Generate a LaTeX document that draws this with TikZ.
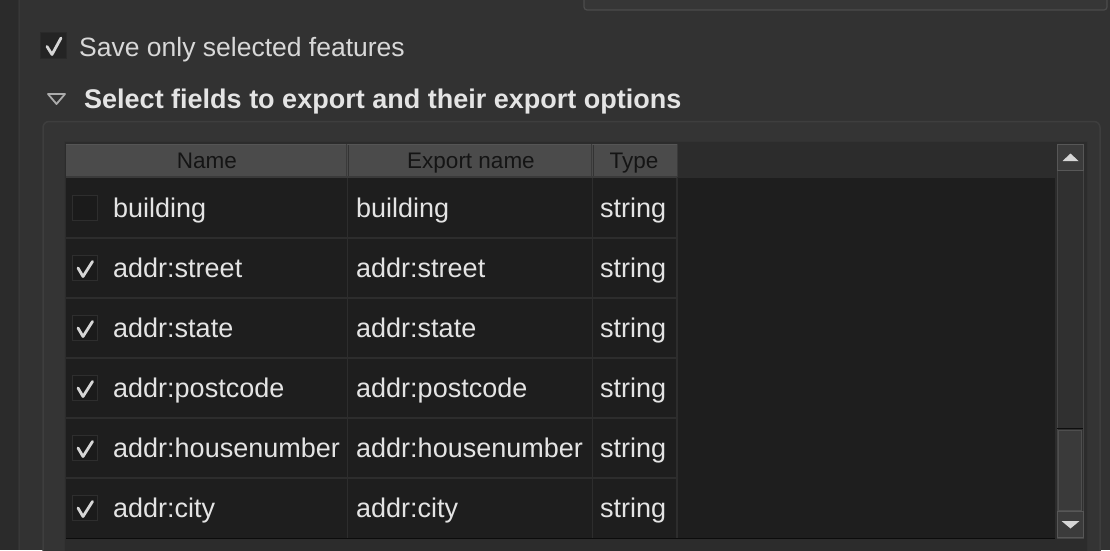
\documentclass[tikz,border=0pt]{standalone}
\usepackage{fontspec}
\setmainfont{Liberation Sans}
\definecolor{bgmain}{HTML}{323232}
\definecolor{bgstrip}{HTML}{2B2B2B}
\definecolor{stripline}{HTML}{383838}
\definecolor{grpfill}{HTML}{343434}
\definecolor{grpline}{HTML}{3E3E3E}
\definecolor{framefill}{HTML}{2C2C2C}
\definecolor{hdrfill}{HTML}{4B4B4B}
\definecolor{hdrtop}{HTML}{555555}
\definecolor{hdrsep}{HTML}{3A3A3A}
\definecolor{bodyfill}{HTML}{1E1E1E}
\definecolor{gridcol}{HTML}{2D2D2D}
\definecolor{txtcol}{HTML}{E4E4E4}
\definecolor{cbfill}{HTML}{1B1B1B}
\definecolor{cbline}{HTML}{2E2E2E}
\definecolor{savecbfill}{HTML}{242424}
\definecolor{savecbline}{HTML}{2A2A2A}
\definecolor{checkcol}{HTML}{D6D6D6}
\definecolor{btnfill}{HTML}{3B3B3B}
\definecolor{btnline}{HTML}{575757}
\definecolor{trackfill}{HTML}{303030}
\definecolor{trackline}{HTML}{454545}
\definecolor{fieldfill}{HTML}{363636}
\definecolor{fieldline}{HTML}{4C4C4C}
\tikzset{
  bodytxt/.style={anchor=base west, inner sep=0pt, text=txtcol, font=\fontsize{27}{30}\selectfont},
  hdrtxt/.style={anchor=base, inner sep=0pt, text=black!92, font=\fontsize{22.5}{26}\selectfont},
  cboxnode/.style={rectangle, minimum width=25pt, minimum height=25pt, inner sep=0pt, fill=cbfill, draw=cbline, line width=1pt},
  checkmk/.style={draw=checkcol, line width=2.8pt, line cap=round, line join=round},
  gridline/.style={draw=gridcol, line width=1.2pt},
  btn/.style={rectangle, inner sep=0pt, fill=btnfill, draw=btnline, line width=1pt, minimum width=26pt, minimum height=26pt},
  arrowtri/.style={fill=checkcol, draw=none}
}
\begin{document}
\begin{tikzpicture}[x=1pt,y=-1pt]
\useasboundingbox (0,0) rectangle (1110,550);
% background
\fill[bgmain] (0,0) rectangle (1110,550);
\fill[bgstrip] (0,0) rectangle (18,550);
\draw[stripline, line width=1.5pt] (19.5,0) -- (19.5,550);
% top field (cut off)
\draw[fill=fieldfill, draw=fieldline, line width=1.2pt, rounded corners=3pt] (584,-10) rectangle (1107,10);
% save only selected features
\node[cboxnode, minimum width=26pt, minimum height=26pt, fill=savecbfill, draw=savecbline] (cbsave) at (53,45) {};
\draw[checkmk] ([shift={(-6,1.5)}]cbsave.center) -- ([shift={(-1,9.5)}]cbsave.center) -- ([shift={(8,-7)}]cbsave.center);
\node[anchor=base west, inner sep=0pt, text=txtcol!95!black, font=\fontsize{26.5}{30}\selectfont] (savetxt) at (79,56) {Save only selected features};
% disclosure triangle
\draw[draw=checkcol!80!black, line width=1.8pt, line join=round] (48,94) -- (65,94) -- (56.5,104) -- cycle;
\node[anchor=base west, inner sep=0pt, text=txtcol, font=\bfseries\fontsize{27}{30}\selectfont] (grptitle) at (84,108) {Select fields to export and their export options};
% group box
\draw[fill=grpfill, draw=grpline, line width=1.5pt, rounded corners=6pt] (43,121.5) rectangle (1100,575);
% table frame
\fill[framefill] (64,141) rectangle (1087,560);
\draw[draw=grpline!80!black, line width=1pt] (64,141) -- (1087,141) -- (1087,560);
\draw[draw=grpline!80!black, line width=1pt] (64,141) -- (64,560);
% header
\fill[hdrfill] (66,144) rectangle (677,177);
\draw[hdrtop, line width=1pt] (66,144.5) -- (677,144.5);
\draw[hdrsep, line width=1.5pt] (66,177) -- (677,177);
\draw[hdrsep, line width=1.2pt] (346.5,144) -- (346.5,177);
\draw[hdrsep, line width=1.2pt] (591.5,144) -- (591.5,177);
\draw[hdrtop!120!white, line width=0.8pt] (348,145) -- (348,176);
\draw[hdrtop!120!white, line width=0.8pt] (593,145) -- (593,176);
\draw[hdrsep, line width=1pt] (677,144) -- (677,177);
\node[hdrtxt] (hname) at (207,168) {Name};
\node[hdrtxt] (hexp) at (471,168) {Export name};
\node[hdrtxt] (htype) at (634,168) {Type};
% body
\fill[bodyfill] (66,178) rectangle (1055,538);
\foreach \yy in {238,298,358,418,478} {
  \draw[gridline] (66,\yy) -- (677,\yy);
}
\draw[gridline] (347.5,178) -- (347.5,538);
\draw[gridline] (592.5,178) -- (592.5,538);
\draw[gridline] (677,178) -- (677,538);
\draw[draw=black!60!bodyfill, line width=1pt] (66,538.5) -- (1055,538.5);
% rows
\foreach \i/\nm/\chk in {0/building/0,1/addr:street/1,2/addr:state/1,3/addr:postcode/1,4/addr:housenumber/1,5/addr:city/1} {
  \pgfmathsetmacro{\cy}{208+60*\i}
  \pgfmathsetmacro{\by}{217+60*\i}
  \node[cboxnode] (cb\i) at (85,\cy) {};
  \ifnum\chk=1
    \draw[checkmk] ([shift={(-7,0)}]cb\i.center) -- ([shift={(-2,8.5)}]cb\i.center) -- ([shift={(7.5,-6.5)}]cb\i.center);
  \fi
  \node[bodytxt] (nm\i) at (113,\by) {\nm};
  \node[bodytxt] (ex\i) at (356,\by) {\nm};
  \node[bodytxt] (ty\i) at (600,\by) {string};
}
% scrollbar
\draw[fill=trackfill, draw=trackline, line width=1pt] (1057,144) rectangle (1083,538);
\node[btn, anchor=north west] (upbtn) at (1057,144) {};
\fill[arrowtri] ([shift={(0,-4)}]upbtn.center) -- ([shift={(8,3.5)}]upbtn.center) -- ([shift={(-8,3.5)}]upbtn.center) -- cycle;
\draw[draw=black!70!trackfill, line width=1pt] (1057,428.5) -- (1083,428.5);
\draw[fill=btnfill!90!trackfill, draw=btnline!90!black, line width=1.2pt] (1058.5,430.5) rectangle (1081.5,510.5);
\node[btn, anchor=south west] (dnbtn) at (1057,538) {};
\fill[arrowtri] ([shift={(0,4)}]dnbtn.center) -- ([shift={(9,-3.5)}]dnbtn.center) -- ([shift={(-9,-3.5)}]dnbtn.center) -- cycle;
\end{tikzpicture}
\end{document}
